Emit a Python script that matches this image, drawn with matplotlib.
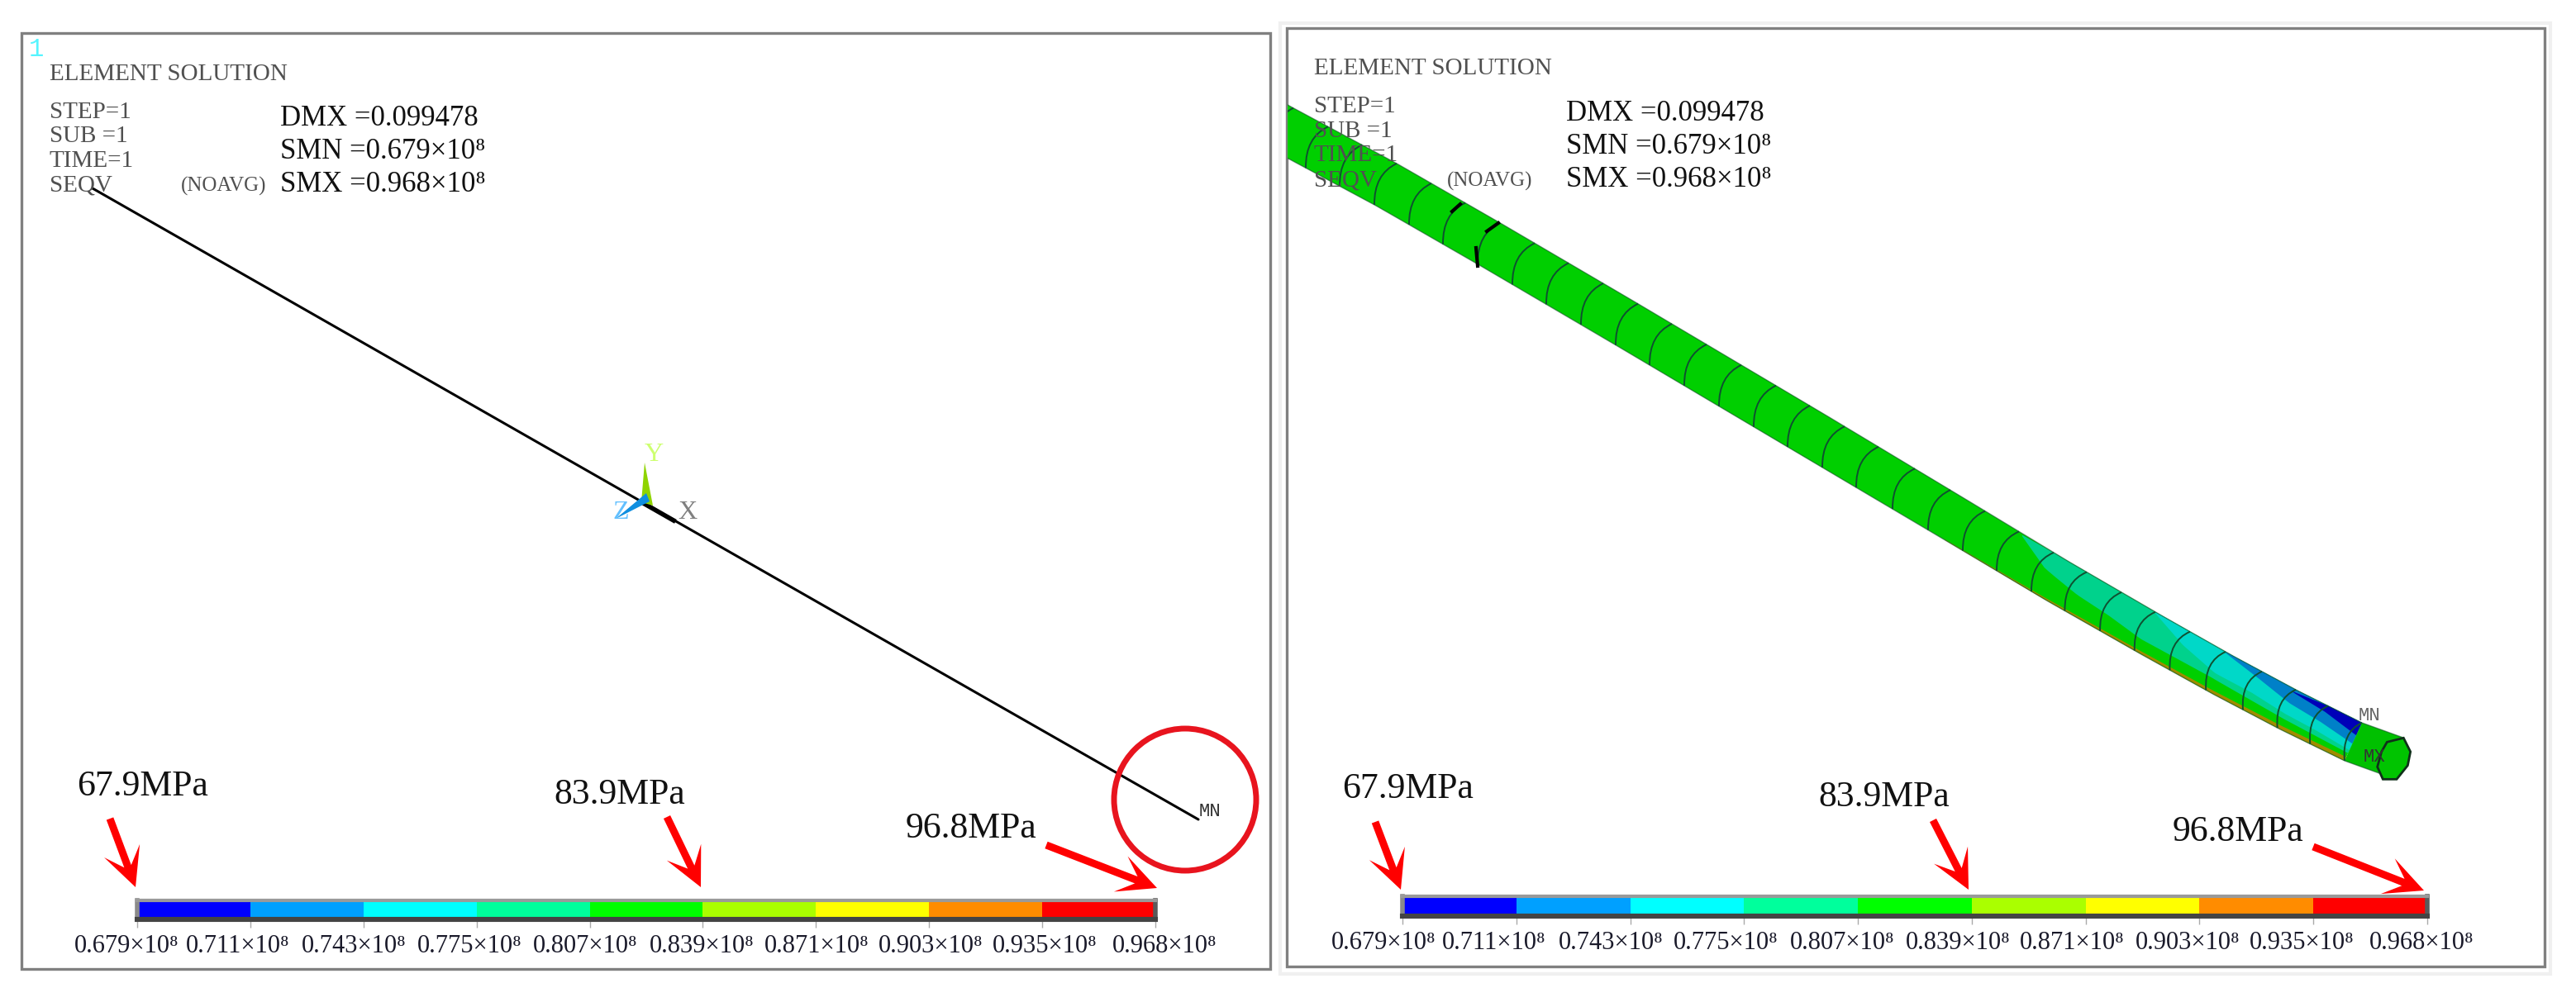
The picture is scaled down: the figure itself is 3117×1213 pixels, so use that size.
import numpy as np
import matplotlib
matplotlib.use("Agg")
import matplotlib.pyplot as plt
from matplotlib.patches import Polygon, Rectangle, Circle, PathPatch
from matplotlib.path import Path
from matplotlib.transforms import ScaledTranslation

W, H = 3117, 1213
SERIF = ['Liberation Serif', 'DejaVu Serif']
MONO = ['Liberation Mono', 'DejaVu Sans Mono']

# ---- values shown in the figure ----
level_values = ['0.679', '0.711', '0.743', '0.775', '0.807', '0.839', '0.871', '0.903', '0.935', '0.968']
level_colors = ['#0000ff', '#00a0ff', '#00ffff', '#00ff9c', '#00ff00', '#aaff00', '#ffff00', '#ff8c00', '#ff0000']
header_lines = ['STEP=1', 'SUB =1', 'TIME=1', 'SEQV']
result_lines = ['DMX =0.099478', 'SMN =0.679×10⁸', 'SMX =0.968×10⁸']
callouts = ['67.9MPa', '83.9MPa', '96.8MPa']

# ---- layout (pixels) ----
left_label_x = [153.5, 288, 428, 568, 708, 849, 988, 1126, 1264, 1409]
right_label_x = [1674, 1808, 1949, 2088, 2229, 2369, 2507, 2647, 2785, 2930]

fig = plt.figure(figsize=(W / 100, H / 100), dpi=100, facecolor='white')
ax = fig.add_axes([0, 0, 1, 1])
ax.set_xlim(0, W)
ax.set_ylim(H, 0)
ax.axis('off')


def frame(x0, y0, x1, y1, color, lw, z=1):
    r = Rectangle((x0, y0), x1 - x0, y1 - y0, fill=False, ec=color, lw=lw, zorder=z)
    ax.add_patch(r)
    return r


frame(1549, 28, 3086, 1179, '#f0f0f0', 3)
frame(26, 40, 1537, 1173, '#808080', 2.4)
frame(1557, 34, 3079, 1170, '#808080', 2.4)


def panel_text(ox, title_y, rows_y, noavg_x, res_x, res_y):
    c = '#505050'
    ax.text(ox, title_y, 'ELEMENT SOLUTION', family=SERIF, fontsize=21, color=c, va='center', zorder=6)
    for s, y in zip(header_lines, rows_y):
        ax.text(ox, y, s, family=SERIF, fontsize=21, color=c, va='center', zorder=6)
    ax.text(noavg_x, rows_y[-1], '(NOAVG)', family=SERIF, fontsize=18, color=c, va='center', zorder=6)
    for s, y in zip(result_lines, res_y):
        ax.text(res_x, y, s, family=SERIF, fontsize=25, color='#111111', va='center', zorder=6)


panel_text(60, 90, [136, 165, 195, 225], 219, 339, [143, 183, 223])
panel_text(1590, 83, [129, 159, 188, 219], 1751, 1895, [137, 177, 217])
ax.text(44, 60, '1', family=MONO, fontsize=22, color='#55f5ff', ha='center', va='center')

# ---- left panel: line model ----
ax.plot([112, 1450], [228, 992], color='black', lw=2.2, solid_capstyle='round', zorder=3)
ax.plot([780, 815], [610, 630], color='black', lw=4, zorder=3)
ax.add_patch(Polygon([(780, 560), (776, 608), (790, 612)], closed=True, color='#8fd400', lw=0, zorder=4))
ax.add_patch(Polygon([(782, 597), (745, 628), (786, 607)], closed=True, color='#0f8fe0', lw=0, zorder=4))
ax.text(791, 551, 'Y', family=SERIF, fontsize=23, color='#cdff70', ha='center', va='center', zorder=5)
ax.text(751, 620, 'Z', family=SERIF, fontsize=23, color='#62c0ff', ha='center', va='center', zorder=5)
ax.text(832, 621, 'X', family=SERIF, fontsize=23, color='#808080', ha='center', va='center', zorder=5)
ax.text(1464, 982, 'MN', family=MONO, fontsize=16, color='#333333', ha='center', va='center', zorder=5)
ax.add_patch(Circle((1434, 968), 86, fill=False, ec='#e8141e', lw=5, zorder=5))

# ---- right panel: tube model ----
upper_x = [1500, 1558, 1692, 1812, 1969, 2200, 2363, 2500, 2610, 2700, 2780, 2858, 2908]
upper_y = [95, 127, 199, 268, 360, 497, 595, 678, 742, 793, 836, 875, 893]
ring_x = [1565, 1607, 1648, 1690, 1732, 1773, 1815, 1857, 1898, 1940, 1982, 2023, 2065, 2107, 2149,
          2190, 2232, 2273, 2317, 2360, 2402, 2443, 2485, 2525, 2567, 2608, 2650, 2693, 2737, 2778, 2817]


def tube(x, s):
    x = np.asarray(x, float)
    s = np.asarray(s, float)
    dx = np.interp(x, [2500, 2858], [-27, -21])
    dy = np.interp(x, [2200, 2500, 2858], [50, 47, 46])
    return np.column_stack([x + s * dx, np.interp(x, upper_x, upper_y) + s * dy])


clip = Rectangle((1558, 35), 1520, 1134, transform=ax.transData)


def band(xs, s_top, s_bot, color, z):
    g = np.linspace(xs[0], xs[-1], 80)
    top = tube(g, np.interp(g, xs, s_top))
    bot = tube(g, np.interp(g, xs, s_bot))
    p = Polygon(np.vstack([top, bot[::-1]]), closed=True, fc=color, ec='none', zorder=z)
    ax.add_patch(p)
    p.set_clip_path(clip)


band([1500, 2858], [0, 0], [1, 1], '#00cf00', 2)
# bottom orange strip
band([2380, 2560, 2858], [0.99, 0.95, 0.90], [1, 1, 1], '#a08c00', 2.1)
# stress contours
band([2448, 2485, 2528, 2567, 2608, 2693, 2858], [0.03, 0, 0, 0, 0, 0, 0],
     [0.05, 0.40, 0.55, 0.60, 0.70, 0.68, 0.80], '#00d28c', 2.2)
band([2608, 2650, 2693, 2737, 2778, 2817, 2858], [0, 0, 0, 0, 0, 0, 0],
     [0.02, 0.35, 0.55, 0.55, 0.62, 0.65, 0.72], '#00d8c8', 2.3)
band([2693, 2737, 2778, 2817, 2858], [0, 0, 0, 0, 0],
     [0.02, 0.18, 0.35, 0.42, 0.55], '#0080c8', 2.4)
band([2775, 2817, 2858], [0.07, 0, 0], [0.08, 0.16, 0.33], '#0000b8', 2.5)

# end section and cap
end_x = [2858, 2908]
end = np.vstack([tube(end_x, [0, 0]), tube(end_x[::-1], [1, 1])])
ax.add_patch(Polygon(end, closed=True, fc='#00c000', ec='none', zorder=2.6))
cap_u = [1165, 1225, 1250, 1240, 1200, 1150, 1130, 1145]
cap_v = [745, 730, 780, 830, 880, 880, 835, 780]
cap = np.column_stack([2500 + np.array(cap_u) / 3, 650 + np.array(cap_v) / 3])
ax.add_patch(Polygon(cap, closed=True, fc='#00c400', ec='#10301a', lw=2, zorder=3.2))
b0, b1 = tube([2858], [0])[0], tube([2858], [1])[0]
ctrl = (b0 + b1) / 2 + np.array([-14, -12])
ax.add_patch(PathPatch(Path([b0, ctrl, b1], [Path.MOVETO, Path.CURVE3, Path.CURVE3]),
                       fc='none', ec='#0f5030', lw=1.4, zorder=3.1))

# outer edges
g = np.linspace(1500, 2908, 200)
for s in (0, 1):
    xy = tube(g, np.full_like(g, s))
    l, = ax.plot(xy[:, 0], xy[:, 1], color='#0a4a20', lw=1.0, alpha=0.55, zorder=3)
    l.set_clip_path(clip)

# element boundaries
for rx in ring_x:
    p0, p1 = tube([rx], [0])[0], tube([rx], [1])[0]
    ctrl = (p0 + p1) / 2 + np.array([-14, -12])
    patch = PathPatch(Path([p0, ctrl, p1], [Path.MOVETO, Path.CURVE3, Path.CURVE3]),
                      fc='none', ec='#0f5030', lw=1.4, zorder=3)
    ax.add_patch(patch)
    patch.set_clip_path(clip)

# dark artefacts on the tube
for xs, ys in (([1757, 1767], [256, 247]), ([1799, 1813], [280, 270]), ([1786, 1788], [300, 322])):
    ax.plot(xs, ys, color='black', lw=3, zorder=4)

ax.text(2867, 866, 'MN', family=MONO, fontsize=16, color='#666666', ha='center', va='center', zorder=5)
ax.text(2873, 917, 'MX', family=MONO, fontsize=16, color='#333333', ha='center', va='center', zorder=5)


# ---- callout arrows ----
def arrow(tail, tip):
    tail, tip = np.array(tail, float), np.array(tip, float)
    u = (tip - tail) / np.linalg.norm(tip - tail)
    n = np.array([u[1], -u[0]])
    hw, ln, nl, bw = 4.5, 47, 27, 23
    pts = [tail - n * hw, tip - u * nl - n * hw, tip - u * ln - n * bw, tip,
           tip - u * ln + n * bw, tip - u * nl + n * hw, tail + n * hw]
    ax.add_patch(Polygon(pts, closed=True, fc='#ff0000', ec='none', zorder=7))


for tail, tip in (((133, 991), (164, 1074)), ((807, 989), (848, 1074)), ((1266, 1023), (1400, 1075)),
                  ((1664, 995), (1695, 1077)), ((2339, 993), (2382, 1077)), ((2799, 1025), (2933, 1078))):
    arrow(tail, tip)

for s, x, y in zip(callouts * 2, [93, 670, 1096, 1624, 2200, 2629], [952, 962, 1003, 955, 965, 1007]):
    ax.text(x, y, s, family=SERIF, fontsize=31.5, color='#111111', va='center', zorder=8)


# ---- legends ----
def legend(x0, x1, y0, y1, label_x):
    cax = fig.add_axes([x0 / W, 1 - y1 / H, (x1 - x0) / W, (y1 - y0) / H])
    cax.bar(np.arange(len(level_colors)), np.ones(len(level_colors)), width=1, align='edge', color=level_colors)
    cax.set_xlim(0, len(level_colors))
    cax.set_ylim(0, 1)
    cax.set_yticks([])
    for side, col, lw in (('top', '#9a9a9a', 3), ('left', '#8a8a8a', 4), ('bottom', '#444444', 4.4), ('right', '#5a5a5a', 4)):
        cax.spines[side].set_color(col)
        cax.spines[side].set_linewidth(lw)
    labels = [v + '×10⁸' for v in level_values]
    cax.set_xticks(np.arange(len(level_values)), labels)
    cax.tick_params(axis='x', length=7, width=1, color='#aaaaaa', pad=6)
    ticks_px = np.linspace(x0, x1, len(level_values))
    for lab, tx, lx in zip(cax.get_xticklabels(), ticks_px, label_x):
        lab.set_fontfamily(SERIF)
        lab.set_fontsize(22)
        lab.set_color('#1a1a2a')
        lab.set_transform(lab.get_transform() + ScaledTranslation((lx - tx) / 100, 0, fig.dpi_scale_trans))


legend(166, 1398, 1090, 1113, left_label_x)
legend(1697, 2937, 1085, 1109, right_label_x)

fig.savefig('out.png', dpi=100, facecolor='white')
